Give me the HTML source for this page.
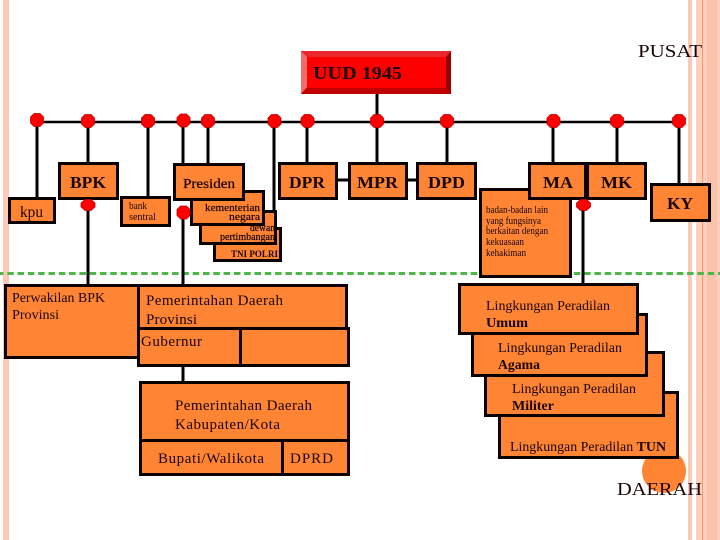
<!DOCTYPE html>
<html><head><meta charset="utf-8"><style>
html,body{margin:0;padding:0;background:#fff;width:720px;height:540px;overflow:hidden}
svg{display:block}
text{font-family:"Liberation Serif",serif;fill:#1a0505}
.b{fill:#FF8535;stroke:#0a0000;stroke-width:3}
.l{stroke:#000;stroke-width:3;fill:none}
.n{fill:#f00;stroke:#c00000;stroke-width:.8}
.t{font-weight:bold;font-size:17px}
</style></head><body>
<svg width="720" height="540" viewBox="0 0 720 540" xmlns="http://www.w3.org/2000/svg">
<rect x="3" y="0" width="6" height="540" fill="#FBC9B5"/>
<rect x="688" y="0" width="4" height="540" fill="#FBC9B5"/>
<rect x="696" y="0" width="24" height="540" fill="#FDD0BD"/>
<rect x="707" y="0" width="10" height="540" fill="#FBC3AC"/>
<rect x="702" y="0" width="1" height="540" fill="#F59A6B"/>
<line x1="0" y1="273.500" x2="720" y2="273.500" stroke="#4DB848" stroke-width="3" stroke-dasharray="6.500 3.800" stroke-dashoffset="3"/>

<!-- connectors -->
<path class="l" style="stroke-width:2.500" d="M37 122H679"/>
<path class="l" d="M37 122V198M88 122V163M148 122V197M183 122V164M208 122V164M274 122V212M307 122V163M377 92V163M447 122V163M553 122V163M617 122V163M679 122V184M88 205V285M183 213V382M583 205V285M338 180H349M408 180H417"/>

<!-- UUD -->
<rect x="301" y="51" width="150" height="43" fill="#f00"/>
<polygon points="301,51 451,51 446,57 307,57" fill="#E8282C"/>
<polygon points="301,51 307,57 307,87 301,94" fill="#F56A6A"/>
<polygon points="451,51 451,94 446,94 446,57" fill="#990000"/>
<polygon points="301,94 451,94 446,88 307,88" fill="#C00000"/>
<text x="313" y="79" font-weight="bold" font-size="18" textLength="89" lengthAdjust="spacingAndGlyphs">UUD 1945</text>
<text x="638" y="57" font-size="18" textLength="64" lengthAdjust="spacingAndGlyphs">PUSAT</text>

<!-- lower left -->
<rect class="b" x="5.500" y="285.500" width="133" height="72"/>
<text x="12" y="302" font-size="14" textLength="93" lengthAdjust="spacingAndGlyphs">Perwakilan BPK</text>
<text x="12" y="319" font-size="14" textLength="47" lengthAdjust="spacingAndGlyphs">Provinsi</text>

<rect class="b" x="138.500" y="285.500" width="208" height="43"/>
<text x="146" y="305" font-size="15" textLength="137" lengthAdjust="spacing">Pemerintahan Daerah</text>
<text x="146" y="324" font-size="15" textLength="51" lengthAdjust="spacing">Provinsi</text>
<rect class="b" x="240.500" y="328.500" width="108" height="37"/>
<rect class="b" x="138.500" y="328.500" width="102" height="37"/>
<text x="141" y="346" font-size="15" textLength="61" lengthAdjust="spacing">Gubernur</text>

<rect class="b" x="140.500" y="382.500" width="208" height="58"/>
<text x="175" y="410" font-size="15" textLength="137" lengthAdjust="spacing">Pemerintahan Daerah</text>
<text x="175" y="429" font-size="15" textLength="105" lengthAdjust="spacing">Kabupaten/Kota</text>
<rect class="b" x="282.500" y="440.500" width="66" height="34"/>
<rect class="b" x="140.500" y="440.500" width="142" height="34"/>
<text x="158" y="463" font-size="15" textLength="106" lengthAdjust="spacing">Bupati/Walikota</text>
<text x="290" y="463" font-size="15" textLength="43" lengthAdjust="spacing">DPRD</text>

<!-- badan -->
<rect class="b" x="480.500" y="189.500" width="90" height="87"/>
<text x="486" y="213" font-size="10" textLength="62" lengthAdjust="spacingAndGlyphs">badan-badan lain</text>
<text x="486" y="224" font-size="10" textLength="55" lengthAdjust="spacingAndGlyphs">yang fungsinya</text>
<text x="486" y="234" font-size="10" textLength="62" lengthAdjust="spacingAndGlyphs">berkaitan dengan</text>
<text x="486" y="245" font-size="10" textLength="38" lengthAdjust="spacingAndGlyphs">kekuasaan</text>
<text x="486" y="256" font-size="10" textLength="40" lengthAdjust="spacingAndGlyphs">kehakiman</text>

<!-- stacked -->
<rect class="b" x="214.500" y="228.500" width="66" height="32"/>
<text x="231" y="257" font-size="9" font-weight="bold" textLength="47" lengthAdjust="spacing">TNI POLRI</text>
<rect class="b" x="200.500" y="211.500" width="75" height="32"/>
<text x="250" y="231" font-size="10" textLength="25" lengthAdjust="spacingAndGlyphs" style="stroke:#1a0505;stroke-width:.2">dewan</text>
<text x="220" y="240" font-size="10" textLength="55" lengthAdjust="spacingAndGlyphs" style="stroke:#1a0505;stroke-width:.2">pertimbangan</text>
<rect class="b" x="191.500" y="191.500" width="72" height="33"/>
<text x="205" y="211" font-size="11" textLength="55" lengthAdjust="spacingAndGlyphs" style="stroke:#1a0505;stroke-width:.2">kementerian</text>
<text x="229" y="220" font-size="11" textLength="31" lengthAdjust="spacingAndGlyphs" style="stroke:#1a0505;stroke-width:.2">negara</text>

<!-- top row -->
<rect class="b" x="59.500" y="163.500" width="58" height="35"/>
<text x="70" y="188" class="t" textLength="36" lengthAdjust="spacingAndGlyphs">BPK</text>
<rect class="b" x="9.500" y="198.500" width="45" height="24"/>
<text x="20" y="217" font-size="16" textLength="23" lengthAdjust="spacingAndGlyphs">kpu</text>
<rect class="b" x="121.500" y="197.500" width="48" height="28"/>
<text x="129" y="209" font-size="11" textLength="18" lengthAdjust="spacingAndGlyphs">bank</text>
<text x="129" y="220" font-size="11" textLength="27" lengthAdjust="spacingAndGlyphs">sentral</text>
<rect class="b" x="174.500" y="164.500" width="69" height="35"/>
<text x="183" y="188" font-size="14" textLength="52" lengthAdjust="spacingAndGlyphs" style="stroke:#1a0505;stroke-width:.25">Presiden</text>
<rect class="b" x="279.500" y="163.500" width="57" height="35"/>
<text x="289" y="188" class="t" textLength="36" lengthAdjust="spacingAndGlyphs">DPR</text>
<rect class="b" x="349.500" y="163.500" width="57" height="35"/>
<text x="357" y="188" class="t" textLength="41" lengthAdjust="spacingAndGlyphs">MPR</text>
<rect class="b" x="417.500" y="163.500" width="58" height="35"/>
<text x="428" y="188" class="t" textLength="37" lengthAdjust="spacingAndGlyphs">DPD</text>
<rect class="b" x="529.500" y="163.500" width="56" height="35"/>
<text x="543" y="188" class="t" textLength="30" lengthAdjust="spacingAndGlyphs">MA</text>
<rect class="b" x="587.500" y="163.500" width="58" height="35"/>
<text x="601" y="188" class="t" textLength="31" lengthAdjust="spacingAndGlyphs">MK</text>
<rect class="b" x="651.500" y="184.500" width="58" height="36"/>
<text x="667" y="209" class="t" textLength="26" lengthAdjust="spacingAndGlyphs">KY</text>

<!-- circle -->
<circle cx="664" cy="471" r="22" fill="#FF8535"/>
<!-- Lingkungan -->
<rect class="b" x="499.500" y="392.500" width="178" height="65"/>
<text x="510" y="451" font-size="14" textLength="156" lengthAdjust="spacingAndGlyphs">Lingkungan Peradilan <tspan font-weight="bold">TUN</tspan></text>
<rect class="b" x="485.500" y="352.500" width="178" height="63"/>
<text x="512" y="393" font-size="14" textLength="124" lengthAdjust="spacingAndGlyphs">Lingkungan Peradilan</text>
<text x="512" y="410" font-size="14" font-weight="bold" textLength="42" lengthAdjust="spacingAndGlyphs">Militer</text>
<rect class="b" x="472.500" y="314.500" width="174" height="61"/>
<text x="498" y="352" font-size="14" textLength="124" lengthAdjust="spacingAndGlyphs">Lingkungan Peradilan</text>
<text x="498" y="369" font-size="14" font-weight="bold" textLength="42" lengthAdjust="spacingAndGlyphs">Agama</text>
<rect class="b" x="459.500" y="284.500" width="178" height="49"/>
<text x="486" y="310" font-size="14" textLength="124" lengthAdjust="spacingAndGlyphs">Lingkungan Peradilan</text>
<text x="486" y="327" font-size="14" font-weight="bold" textLength="42" lengthAdjust="spacingAndGlyphs">Umum</text>
<text x="617" y="495" font-size="18" textLength="85" lengthAdjust="spacingAndGlyphs">DAERAH</text>

<!-- nodes -->
<g class="n">
<polygon points="-3,-6.500 3,-6.500 6.500,-3 6.500,3 3,6.500 -3,6.500 -6.500,3 -6.500,-3" transform="translate(37 120)"/>
<polygon points="-3,-6.500 3,-6.500 6.500,-3 6.500,3 3,6.500 -3,6.500 -6.500,3 -6.500,-3" transform="translate(88 121)"/>
<polygon points="-3,-6.500 3,-6.500 6.500,-3 6.500,3 3,6.500 -3,6.500 -6.500,3 -6.500,-3" transform="translate(148 121)"/>
<polygon points="-3,-6.500 3,-6.500 6.500,-3 6.500,3 3,6.500 -3,6.500 -6.500,3 -6.500,-3" transform="translate(183.500 120.500)"/>
<polygon points="-3,-6.500 3,-6.500 6.500,-3 6.500,3 3,6.500 -3,6.500 -6.500,3 -6.500,-3" transform="translate(208 121)"/>
<polygon points="-3,-6.500 3,-6.500 6.500,-3 6.500,3 3,6.500 -3,6.500 -6.500,3 -6.500,-3" transform="translate(274.500 121)"/>
<polygon points="-3,-6.500 3,-6.500 6.500,-3 6.500,3 3,6.500 -3,6.500 -6.500,3 -6.500,-3" transform="translate(307.500 121)"/>
<polygon points="-3,-6.500 3,-6.500 6.500,-3 6.500,3 3,6.500 -3,6.500 -6.500,3 -6.500,-3" transform="translate(377 121)"/>
<polygon points="-3,-6.500 3,-6.500 6.500,-3 6.500,3 3,6.500 -3,6.500 -6.500,3 -6.500,-3" transform="translate(447 121)"/>
<polygon points="-3,-6.500 3,-6.500 6.500,-3 6.500,3 3,6.500 -3,6.500 -6.500,3 -6.500,-3" transform="translate(553.500 121)"/>
<polygon points="-3,-6.500 3,-6.500 6.500,-3 6.500,3 3,6.500 -3,6.500 -6.500,3 -6.500,-3" transform="translate(617 121)"/>
<polygon points="-3,-6.500 3,-6.500 6.500,-3 6.500,3 3,6.500 -3,6.500 -6.500,3 -6.500,-3" transform="translate(679 121)"/>
<polygon points="-3,-5.500 3,-5.500 7,-2 7,2 3,5.500 -3,5.500 -7,2 -7,-2" transform="translate(88 205)"/>
<polygon points="-3,-6.500 3,-6.500 6.500,-3 6.500,3 3,6.500 -3,6.500 -6.500,3 -6.500,-3" transform="translate(183.500 212.500)"/>
<polygon points="-3,-5.500 3,-5.500 7,-2 7,2 3,5.500 -3,5.500 -7,2 -7,-2" transform="translate(583.500 205)"/>
</g>
</svg>
</body></html>
